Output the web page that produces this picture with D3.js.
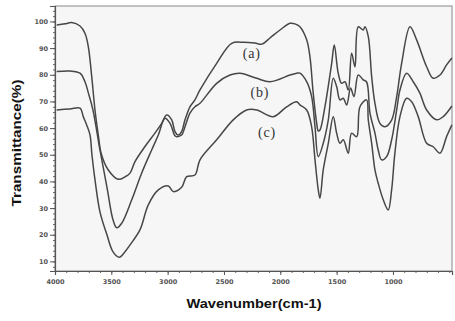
<!DOCTYPE html>
<html>
<head>
<meta charset="utf-8">
<script src="https://cdn.jsdelivr.net/npm/d3@7"></script>
<style>
  html, body { margin: 0; padding: 0; background: #fff; }
  svg { display: block; }
</style>
</head>
<body>
<div id="chart"></div>
<script>
// spectra: [wavenumber, transmittance]
const curveA = [[3985,98.7],[3911,99.1],[3852,99.6],[3778,98.3],[3734,95.6],[3704,90.5],[3674,79.3],[3645,66.8],[3616,57.5],[3590,50.5],[3527,44.3],[3438,40.8],[3379,41.7],[3334,43.1],[3290,47.4],[3201,53.1],[3113,58.1],[3053,61.8],[3009,64.9],[2964,63.1],[2935,58.7],[2906,57.4],[2876,58.7],[2846,63.1],[2802,68],[2758,70.6],[2713,74.3],[2565,84.3],[2432,91.8],[2329,92.2],[2225,91.9],[2163,91.5],[2092,93.8],[2003,96.8],[1914,99.3],[1870,99.1],[1826,98],[1766,93.1],[1737,86.8],[1708,73.1],[1677,61.8],[1663,58.9],[1648,59.3],[1604,68],[1544,84.3],[1521,91.2],[1486,80.6],[1456,76.8],[1426,77.4],[1397,74.3],[1367,88.1],[1337,83],[1308,98],[1264,96.8],[1249,98],[1219,94.3],[1189,79.3],[1160,69.3],[1116,61.8],[1071,60.5],[1012,63],[967,71.8],[923,84.3],[849,98],[790,93.1],[701,83],[643,78.7],[583,79.9],[524,83.7],[477,86.3]];
const curveB = [[3985,81.2],[3867,81.4],[3778,80.6],[3734,77.4],[3704,73.2],[3663,66.8],[3601,51.8],[3539,37.9],[3485,25.6],[3452,22.6],[3408,24.3],[3319,33.1],[3231,43.1],[3142,51.8],[3083,57.4],[3024,63.7],[2979,61.8],[2935,57.1],[2920,56.8],[2876,57.4],[2846,60.5],[2802,65.6],[2758,68],[2713,69.3],[2565,76.8],[2447,79.9],[2358,80.6],[2210,78.7],[2092,77.4],[1914,79.9],[1855,80.6],[1826,80.6],[1766,77.4],[1722,71.8],[1692,60.5],[1663,49.3],[1619,54.3],[1574,63.1],[1530,78.7],[1500,75.6],[1471,70.6],[1441,71.2],[1411,68.7],[1376,75],[1346,71.8],[1308,79.9],[1264,78.1],[1234,77.3],[1204,65.6],[1160,58.1],[1131,51.8],[1101,48.1],[1056,49.3],[1012,55.6],[967,66.8],[938,74.3],[879,80.6],[820,77.4],[761,73.1],[701,66.8],[612,63.1],[554,64.3],[477,68.3]];
const curveC = [[3985,66.8],[3867,67.2],[3778,67.5],[3749,64.3],[3719,61.2],[3689,57.4],[3672,49.9],[3645,40.6],[3601,28.6],[3539,20],[3485,13.6],[3429,11.6],[3379,13.6],[3334,16.2],[3246,21.8],[3172,31.2],[3083,36.8],[2994,38.3],[2950,36.2],[2876,37.8],[2831,41.8],[2758,42.4],[2713,48.1],[2565,55.6],[2418,63.1],[2299,66.8],[2210,66.8],[2063,64.3],[1944,68],[1855,69.9],[1826,68.7],[1766,66.8],[1722,60.5],[1692,48.1],[1663,36.8],[1648,33.7],[1619,44.3],[1574,54.3],[1530,64.3],[1500,58.1],[1471,54.3],[1441,55.6],[1397,50.6],[1367,58.1],[1322,56.8],[1293,68],[1234,70.6],[1219,63.1],[1189,54.3],[1160,44.3],[1131,39.3],[1086,33.1],[1042,29.3],[1012,36.8],[983,50.6],[938,64.3],[879,71.2],[834,69.9],[776,64.3],[701,54.3],[643,53],[583,50.6],[524,56.8],[477,61.2]];

const xTicks = [4000, 3500, 3000, 2500, 2000, 1500, 1000];
const yTicks = [10, 20, 30, 40, 50, 60, 70, 80, 90, 100];
const curveLabels = [
  { text: '(a)', w: 2254, t: 87.8 },
  { text: '(b)', w: 2181, t: 73.2 },
  { text: '(c)', w: 2118, t: 58.2 },
];

const width = 455;
const height = 321;
const plot = { left: 55, right: 452, top: 6, bottom: 271 };

const svg = d3.select('#chart').append('svg').attr('width', width).attr('height', height);

const x = d3.scaleLinear().domain([4000, 476]).range([plot.left, plot.right]);
const y = d3.scaleLinear().domain([6.4, 105.8]).range([plot.bottom, plot.top]);

// plot area
svg.append('rect')
  .attr('x', plot.left).attr('y', plot.top)
  .attr('width', plot.right - plot.left).attr('height', plot.bottom - plot.top)
  .attr('fill', '#f6f6f6')
  .attr('stroke', '#888')
  .attr('stroke-width', 1);

// y axis, major + minor ticks
svg.append('g')
  .attr('transform', `translate(${plot.left},0)`)
  .call(d3.axisLeft(y).tickValues(d3.range(8, 106, 2)).tickSize(2).tickFormat(''))
  .call(g => g.select('.domain').remove())
  .selectAll('line').attr('stroke', '#666');

svg.append('g')
  .attr('transform', `translate(${plot.left},0)`)
  .call(d3.axisLeft(y).tickValues(yTicks).tickSize(5).tickPadding(2))
  .call(g => g.select('.domain').attr('stroke', '#555').attr('stroke-width', 1.2))
  .call(g => g.selectAll('line').attr('stroke', '#555'))
  .selectAll('text')
  .style('font-family', 'DejaVu Sans')
  .style('font-weight', 'bold')
  .style('font-size', '6.5px')
  .style('fill', '#555');

// x axis, minor every 100
svg.append('g')
  .attr('transform', `translate(0,${plot.bottom})`)
  .call(d3.axisBottom(x).tickValues(d3.range(4000, 499, -100)).tickSize(2).tickFormat(''))
  .call(g => g.select('.domain').remove())
  .selectAll('line').attr('stroke', '#666');

svg.append('g')
  .attr('transform', `translate(0,${plot.bottom})`)
  .call(d3.axisBottom(x).tickValues(xTicks).tickSize(4).tickPadding(4).tickFormat(d3.format('d')))
  .call(g => g.select('.domain').attr('stroke', '#555').attr('stroke-width', 1.2))
  .call(g => g.selectAll('line').attr('stroke', '#555'))
  .selectAll('text')
  .style('font-family', 'DejaVu Sans')
  .style('font-weight', 'bold')
  .style('font-size', '6.5px')
  .style('fill', '#555');

// spectra
const line = d3.line()
  .x(d => x(d[0]))
  .y(d => y(d[1]))
  .curve(d3.curveCatmullRom.alpha(0.5));

[curveA, curveB, curveC].forEach(c => {
  svg.append('path')
    .datum(c)
    .attr('d', line)
    .attr('fill', 'none')
    .attr('stroke', '#474747')
    .attr('stroke-width', 1.5)
    .attr('stroke-linejoin', 'round');
});

svg.selectAll('.curve-label')
  .data(curveLabels)
  .enter()
  .append('text')
  .attr('class', 'curve-label')
  .attr('x', d => x(d.w))
  .attr('y', d => y(d.t))
  .attr('text-anchor', 'middle')
  .attr('dominant-baseline', 'central')
  .style('font-family', 'Liberation Serif')
  .style('font-size', '14px')
  .style('letter-spacing', '0.8px')
  .style('fill', '#333')
  .text(d => d.text);

// axis titles
svg.append('text')
  .attr('transform', 'translate(21,143) rotate(-90)')
  .attr('text-anchor', 'middle')
  .attr('textLength', 127)
  .attr('lengthAdjust', 'spacingAndGlyphs')
  .style('font-family', 'Liberation Sans')
  .style('font-weight', 'bold')
  .style('font-size', '13px')
  .style('fill', '#111')
  .text('Transmittance(%)');

svg.append('text')
  .attr('x', 254)
  .attr('y', 308)
  .attr('text-anchor', 'middle')
  .attr('textLength', 135)
  .attr('lengthAdjust', 'spacingAndGlyphs')
  .style('font-family', 'Liberation Sans')
  .style('font-weight', 'bold')
  .style('font-size', '13px')
  .style('fill', '#111')
  .text('Wavenumber(cm-1)');
</script>
</body>
</html>
